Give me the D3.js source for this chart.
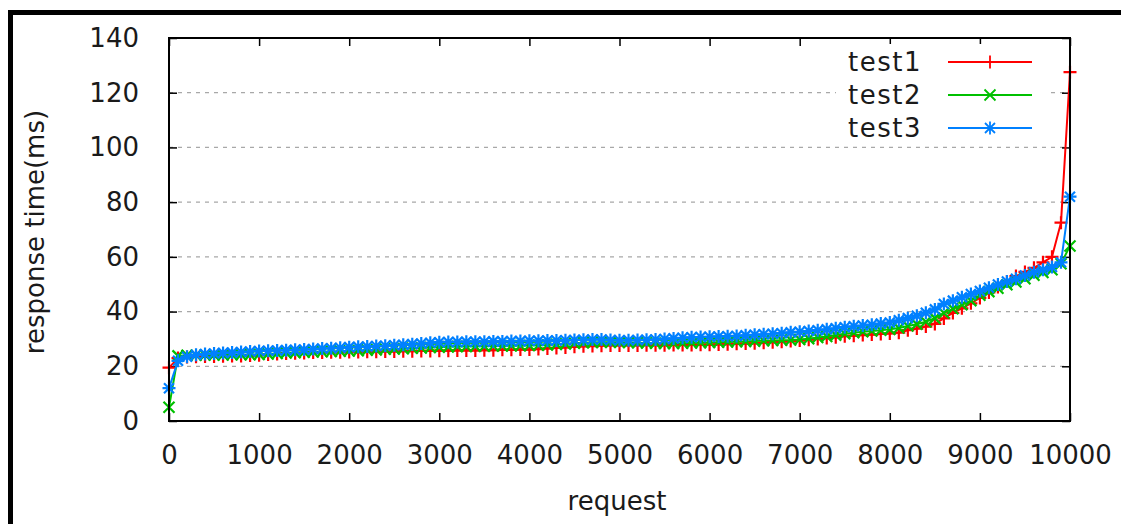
<!DOCTYPE html>
<html><head><meta charset="utf-8">
<script src="https://cdn.jsdelivr.net/npm/d3@7/dist/d3.min.js"></script>
<style>
body{margin:0;background:#fff}
svg{display:block}
text{font-family:"DejaVu Sans",sans-serif;fill:#1a1a1a}
</style></head>
<body><svg id="chart" width="1121" height="524"></svg>
<script>
// ---- data ----
const requestStep = 100;
const seriesNames = ["test1", "test2", "test3"];
const seriesColors = ["#ff0000", "#00c000", "#0080ff"];
const xTicks = [0,1000,2000,3000,4000,5000,6000,7000,8000,9000,10000];
const yTicks = [0,20,40,60,80,100,120,140];

const test1 = [19.5,23.0,23.4,23.5,23.6,23.6,23.7,23.8,23.8,23.9,
  24.0,24.3,24.5,24.7,24.8,24.9,25.0,25.0,25.1,25.1,
  25.2,25.2,25.3,25.3,25.4,25.4,25.5,25.5,25.6,25.6,
  25.7,25.7,25.8,25.8,25.8,25.9,25.9,26.0,26.0,26.1,
  26.1,26.3,26.5,26.7,26.9,27.1,27.3,27.4,27.5,27.6,
  27.6,27.6,27.6,27.7,27.7,27.7,27.8,27.8,27.8,27.9,
  27.9,28.0,28.1,28.2,28.3,28.4,28.6,28.8,29.0,29.2,
  29.4,29.7,30.0,30.3,30.6,31.0,31.2,31.4,31.6,31.8,
  32.0,32.3,33.2,33.8,34.5,35.5,37.5,39.5,41.2,43.0,
  45.0,47.0,49.0,51.0,53.0,54.5,56.0,58.0,60.0,72.5,127.5];

const test2 = [5.0,23.8,24.0,24.0,24.1,24.1,24.1,24.2,24.2,24.2,
  24.3,24.5,24.7,24.9,25.0,25.1,25.2,25.3,25.4,25.5,
  25.6,25.7,25.9,26.0,26.2,26.3,26.4,26.6,26.7,26.9,
  27.0,27.1,27.2,27.2,27.3,27.3,27.4,27.4,27.5,27.5,
  27.6,27.7,27.8,28.0,28.2,28.4,28.6,28.7,28.8,28.8,
  28.8,28.7,28.6,28.5,28.4,28.3,28.3,28.4,28.5,28.6,
  28.7,28.8,28.9,29.0,29.1,29.2,29.3,29.4,29.5,29.6,
  29.8,30.1,30.5,30.9,31.4,31.9,32.3,32.6,32.9,33.2,
  33.5,34.0,34.7,35.4,36.3,37.6,39.5,41.0,42.5,44.0,
  46.0,47.3,48.5,49.8,50.8,52.0,53.3,54.3,55.3,57.5,64.0];

const test3 = [12.0,22.0,23.5,24.2,24.5,24.7,24.9,25.0,25.2,25.4,
  25.6,25.7,25.8,25.9,26.0,26.1,26.3,26.5,26.6,26.8,
  27.0,27.1,27.2,27.4,27.5,27.7,27.9,28.1,28.3,28.6,
  28.8,28.9,28.9,29.0,29.0,29.0,29.1,29.1,29.2,29.2,
  29.3,29.3,29.4,29.4,29.5,29.6,29.7,29.8,29.8,29.6,
  29.5,29.5,29.6,29.7,29.8,30.0,30.2,30.4,30.6,30.7,
  30.8,30.9,31.0,31.1,31.3,31.5,31.7,31.9,32.1,32.4,
  32.6,32.9,33.2,33.5,33.9,34.3,34.6,34.9,35.2,35.6,
  36.0,36.8,37.6,38.5,39.6,40.8,42.8,44.0,45.2,46.4,
  47.5,48.7,49.9,51.0,52.0,53.2,54.4,55.3,56.3,58.0,82.0];

const seriesValues = [test1, test2, test3];

// ---- layout ----
const svg = d3.select("#chart");
const L = 169, R = 1070, T = 38, B = 421;
const x = d3.scaleLinear().domain([0, 10000]).range([L, R]);
const y = d3.scaleLinear().domain([0, 140]).range([B, T]);

// outer border (top + left)
svg.append("line").attr("x1",8).attr("x2",1121).attr("y1",12.5).attr("y2",12.5)
  .attr("stroke","#000").attr("stroke-width",5);
svg.append("line").attr("x1",10.5).attr("x2",10.5).attr("y1",10).attr("y2",524)
  .attr("stroke","#000").attr("stroke-width",5);

// grid
svg.append("g").selectAll("line").data(yTicks.filter(v => v > 0 && v < 140)).join("line")
  .attr("x1", L).attr("x2", R)
  .attr("y1", d => y(d)).attr("y2", d => y(d))
  .attr("stroke", "#a8a8a8").attr("stroke-width", 1.3).attr("stroke-dasharray", "4,5");

// axes (inward ticks)
const fontSize = 26;
const gx = svg.append("g").attr("transform", `translate(0,${B})`)
  .call(d3.axisBottom(x).tickValues(xTicks).tickSize(-8).tickPadding(30).tickFormat(d3.format("d")));
const gxt = svg.append("g").attr("transform", `translate(0,${T})`)
  .call(d3.axisTop(x).tickValues(xTicks).tickSize(-8).tickFormat(""));
const gy = svg.append("g").attr("transform", `translate(${L},0)`)
  .call(d3.axisLeft(y).tickValues(yTicks).tickSize(-8).tickPadding(30).tickFormat(d3.format("d")));
const gyr = svg.append("g").attr("transform", `translate(${R},0)`)
  .call(d3.axisRight(y).tickValues(yTicks).tickSize(-8).tickFormat(""));
[gx, gxt, gy, gyr].forEach(g => {
  g.select(".domain").remove();
  g.selectAll(".tick line").attr("stroke", "#000").attr("stroke-width", 1.5);
  g.selectAll("text").attr("font-size", fontSize).attr("font-family", "DejaVu Sans").attr("fill", "#1a1a1a");
});
gx.selectAll("text").attr("dy", "0.5em");

// data
const markerPaths = [
  "M-6.5,0H6.5M0,-6.5V6.5",
  "M-5.5,-5.5L5.5,5.5M-5.5,5.5L5.5,-5.5",
  "M-6.5,0H6.5M0,-6.5V6.5M-5,-5L5,5M-5,5L5,-5"
];
const line = d3.line().x((d, i) => x(i * requestStep)).y(d => y(d));
seriesValues.forEach((vals, s) => {
  const g = svg.append("g");
  g.append("path").attr("d", line(vals)).attr("fill", "none")
    .attr("stroke", seriesColors[s]).attr("stroke-width", 2);
  g.selectAll("path.m").data(vals).join("path").attr("class", "m")
    .attr("d", markerPaths[s])
    .attr("transform", (d, i) => `translate(${x(i * requestStep)},${y(d)})`)
    .attr("stroke", seriesColors[s]).attr("stroke-width", 2.2).attr("fill", "none");
});

// frame
svg.append("rect").attr("x", L).attr("y", T).attr("width", R - L).attr("height", B - T)
  .attr("fill", "none").attr("stroke", "#000").attr("stroke-width", 2);

// legend
svg.append("rect").attr("x", 836).attr("y", 44).attr("width", 212).attr("height", 100).attr("fill", "#fff");
const legendY = [62, 95, 128];
seriesNames.forEach((name, s) => {
  const ly = legendY[s];
  svg.append("text").attr("x", 922).attr("y", ly).attr("dy", "0.36em")
    .attr("text-anchor", "end").attr("font-size", fontSize).attr("letter-spacing", "1.5px").text(name);
  svg.append("line").attr("x1", 948).attr("x2", 1032).attr("y1", ly).attr("y2", ly)
    .attr("stroke", seriesColors[s]).attr("stroke-width", 1.8);
  svg.append("path").attr("d", markerPaths[s]).attr("transform", `translate(990,${ly})`)
    .attr("stroke", seriesColors[s]).attr("stroke-width", 1.8).attr("fill", "none");
});

// axis titles
svg.append("text").attr("x", 617).attr("y", 510).attr("text-anchor", "middle")
  .attr("font-size", fontSize).text("request");
svg.append("text").attr("transform", "translate(44,232) rotate(-90)").attr("text-anchor", "middle")
  .attr("font-size", fontSize).text("response time(ms)");
</script></body></html>
